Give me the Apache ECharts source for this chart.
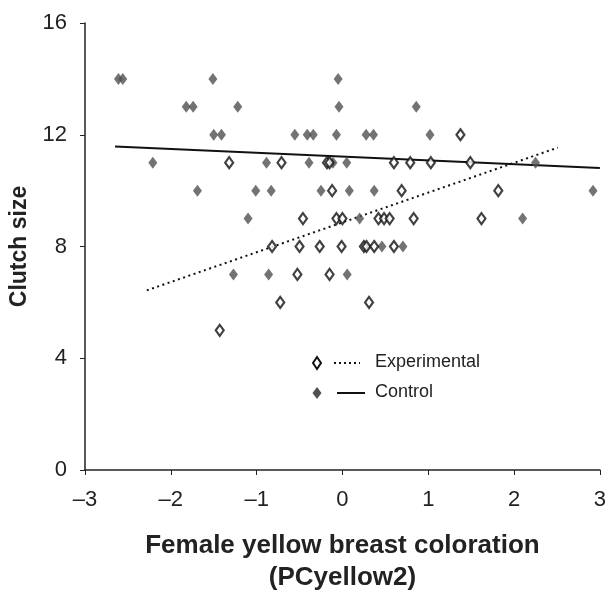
<!DOCTYPE html>
<html>
<head>
	<meta charset="UTF-8">
	<title>Clutch size vs PCyellow2</title>
	<script src="https://cdn.jsdelivr.net/npm/echarts@6/dist/echarts.min.js"></script>
	<style>
		html, body { margin: 0; padding: 0; background: #fff; }
	</style>
</head>

<body>
	<div id="main" style="width: 609px; height: 599px;"></div>
	<script>
		// experimental nests (open diamonds)
		var expX = [1.375,
			-1.32, -0.71, -0.18, -0.15, 0.60, 0.79, 1.03, 1.49,
			-0.12, 0.69, 1.816,
			-0.46, -0.07, 0.0, 0.42, 0.485, 0.55, 0.83, 1.62,
			-0.82, -0.50, -0.265, -0.01, 0.25, 0.28, 0.37, 0.60,
			-0.525, -0.15,
			-0.725, 0.31,
			-1.43];
		var expY = [12,
			11, 11, 11, 11, 11, 11, 11, 11,
			10, 10, 10,
			9, 9, 9, 9, 9, 9, 9, 9,
			8, 8, 8, 8, 8, 8, 8, 8,
			7, 7,
			6, 6,
			5];

		// control nests (filled diamonds)
		var ctrlX = [-2.61, -2.56, -1.51, -0.05,
			-1.82, -1.74, -1.22, -0.04, 0.86,
			-1.50, -1.41, -0.555, -0.41, -0.34, -0.07, 0.276, 0.362, 1.02,
			-2.21, -0.885, -0.39, -0.11, 0.05, 2.25,
			-1.69, -1.01, -0.83, -0.25, 0.08, 0.37, 2.92,
			-1.10, 0.20, 2.10,
			0.46, 0.705,
			-1.27, -0.86, 0.055];
		var ctrlY = [14, 14, 14, 14,
			13, 13, 13, 13, 13,
			12, 12, 12, 12, 12, 12, 12, 12, 12,
			11, 11, 11, 11, 11, 11,
			10, 10, 10, 10, 10, 10, 10,
			9, 9, 9,
			8, 8,
			7, 7, 7];

		// fitted lines (end points)
		var expFitX = [-2.28, 2.51];
		var expFitY = [6.43, 11.54];
		var ctrlFitX = [-2.65, 3.0];
		var ctrlFitY = [11.58, 10.81];

		var xTicks = [-3, -2, -1, 0, 1, 2, 3];
		var yTicks = [0, 4, 8, 12, 16];

		function pairs(xs, ys) {
			var res = [];
			for (var i = 0; i < xs.length; i++) {
				res.push([xs[i], ys[i]]);
			}
			return res;
		}

		var FONT = "'Liberation Sans', Arial, sans-serif";
		var INK = '#222';

		var myChart = echarts.init(document.getElementById('main'));

		var option = {
			backgroundColor: '#fff',
			animation: false,
			textStyle: { fontFamily: FONT },
			grid: { left: 85, right: 7, top: 23, bottom: 123 },
			xAxis: {
				type: 'value',
				min: xTicks[0],
				max: xTicks[xTicks.length - 1],
				interval: 1,
				name: 'Female yellow breast coloration\n(PCyellow2)',
				nameLocation: 'middle',
				nameGap: 60,
				nameTextStyle: { fontSize: 26, fontWeight: 'bold', color: INK, lineHeight: 32 },
				axisLine: { onZero: false, lineStyle: { color: INK, width: 1.5 } },
				axisTick: { inside: false, length: 5, lineStyle: { color: INK } },
				axisLabel: {
					fontSize: 22, color: INK, margin: 19,
					formatter: function (v) { return String(v).replace('-', '\u2013'); }
				},
				splitLine: { show: false }
			},
			yAxis: {
				type: 'value',
				min: yTicks[0],
				max: yTicks[yTicks.length - 1],
				interval: 4,
				name: 'Clutch size',
				nameLocation: 'middle',
				nameGap: 52,
				nameTextStyle: { fontSize: 23, fontWeight: 'bold', color: INK },
				axisLine: { show: true, onZero: false, lineStyle: { color: INK, width: 1.5 } },
				axisTick: { show: true, inside: false, length: 5, lineStyle: { color: INK } },
				axisLabel: { fontSize: 22, color: INK, margin: 18 },
				splitLine: { show: false }
			},
			series: [{
				name: 'Control fit',
				type: 'line',
				data: pairs(ctrlFitX, ctrlFitY),
				symbol: 'none',
				lineStyle: { color: '#111', width: 2 },
				z: 1
			}, {
				name: 'Experimental fit',
				type: 'line',
				data: pairs(expFitX, expFitY),
				symbol: 'none',
				lineStyle: { color: '#111', width: 2, type: [2, 3.5] },
				z: 1
			}, {
				name: 'Control',
				type: 'scatter',
				data: pairs(ctrlX, ctrlY),
				symbol: 'diamond',
				symbolSize: [9, 12],
				itemStyle: { color: '#505050' },
				z: 2
			}, {
				name: 'Experimental',
				type: 'scatter',
				data: pairs(expX, expY),
				symbol: 'diamond',
				symbolSize: [8, 11],
				itemStyle: { color: '#fff', borderColor: '#111', borderWidth: 2.2 },
				z: 3
			}],
			graphic: [
				// legend
				{ type: 'polygon', shape: { points: [[317, 357], [321, 363], [317, 369], [313, 363]] },
					style: { fill: '#fff', stroke: '#111', lineWidth: 2 } },
				{ type: 'line', shape: { x1: 334, y1: 363, x2: 360, y2: 363 },
					style: { stroke: '#111', lineWidth: 2, lineDash: [2, 3] } },
				{ type: 'text', left: 375, top: 353,
					style: { text: 'Experimental', fontSize: 18, fontFamily: FONT, fill: INK } },
				{ type: 'polygon', shape: { points: [[317, 387], [321.5, 393], [317, 399], [312.5, 393]] },
					style: { fill: '#505050' } },
				{ type: 'line', shape: { x1: 337, y1: 393, x2: 365, y2: 393 },
					style: { stroke: '#111', lineWidth: 2 } },
				{ type: 'text', left: 375, top: 383,
					style: { text: 'Control', fontSize: 18, fontFamily: FONT, fill: INK } }
			]
		};

		myChart.setOption(option);
	</script>
</body>
</html>
